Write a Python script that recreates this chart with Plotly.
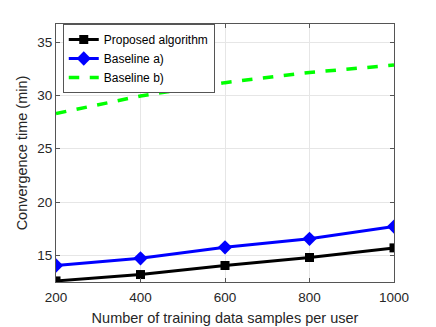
import plotly.graph_objs as go

samples = [200, 400, 600, 800, 1000]
proposed = [12.6, 13.2, 14.05, 14.8, 15.7]
baseline_a = [14.05, 14.72, 15.75, 16.55, 17.7]
baseline_b = [28.3, 29.95, 31.2, 32.15, 32.85]

fig = go.Figure()
fig.add_trace(go.Scatter(x=samples, y=proposed, name='Proposed algorithm', mode='lines+markers',
                         line=dict(color='black', width=3),
                         marker=dict(symbol='square', size=9, color='black')))
fig.add_trace(go.Scatter(x=samples, y=baseline_a, name='Baseline a)', mode='lines+markers',
                         line=dict(color='#0000ff', width=3),
                         marker=dict(symbol='diamond', size=11, color='#0000ff')))
fig.add_trace(go.Scatter(x=samples, y=baseline_b, name='Baseline b)', mode='lines',
                         line=dict(color='#00ff00', width=3.5, dash='dash')))

axis_style = dict(showline=True, linecolor='#555555', linewidth=1, mirror='ticks',
                  ticks='inside', ticklen=4, tickcolor='#555555', automargin=False,
                  showgrid=True, gridcolor='#e6e6e6', gridwidth=1, zeroline=False,
                  tickfont=dict(size=13.5, color='#262626'))

# the page body adds an 8px offset, margins compensate for it
fig.update_layout(
    width=436,
    height=327,
    paper_bgcolor='white',
    plot_bgcolor='white',
    margin=dict(l=48, r=50, t=16, b=53),
    font=dict(family='Liberation Sans, Arial, sans-serif', color='#262626'),
    xaxis=dict(range=[200, 1000], tickvals=samples, ticklabelstandoff=3,
               title=dict(text='Number of training data samples per user', font=dict(size=14.5), standoff=8),
               **axis_style),
    yaxis=dict(range=[12.5, 36.7], tickvals=[15, 20, 25, 30, 35],
               title=dict(text='Convergence time (min)', font=dict(size=14.5), standoff=6),
               **axis_style),
    legend=dict(x=0.02, y=1.0, xanchor='left', yanchor='top',
                bgcolor='white', bordercolor='#555555', borderwidth=1,
                font=dict(size=12, color='black'), tracegroupgap=0,
                itemwidth=30),
    showlegend=True,
)

fig.write_html("out.html")
